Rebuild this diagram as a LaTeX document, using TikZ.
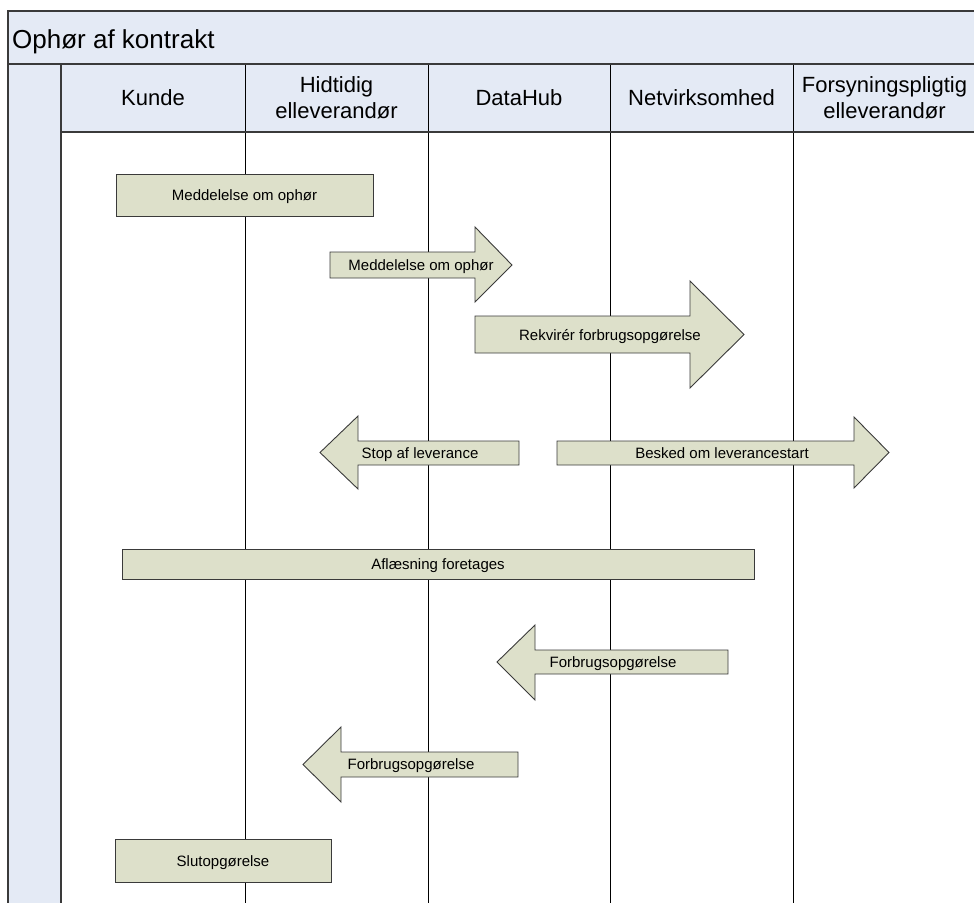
\documentclass[tikz,border=0pt]{standalone}
\usepackage{fontspec}
\setmainfont{Liberation Sans}
\definecolor{bandblue}{HTML}{E4EAF5}
\definecolor{boxfill}{HTML}{DDE0CA}
\definecolor{framegray}{HTML}{3A3A3A}
\begin{document}
\begin{tikzpicture}[x=1pt,y=-1pt,
  frameline/.style={draw=framegray, line width=1.3pt},
  laneline/.style={draw=black, line width=0.9pt},
  shp/.style={draw=framegray, fill=boxfill, line width=0.9pt, line join=miter},
  lbl/.style={font=\fontsize{15}{18}\selectfont, inner sep=0pt, text height=10.7pt, text depth=0pt},
  hdr/.style={font=\fontsize{22}{26}\selectfont, align=center, inner sep=0pt},
]
\useasboundingbox (0,0) rectangle (974,903);
% bands
\fill[bandblue] (8,11) rectangle (974,132);
\fill[bandblue] (8,132) rectangle (61,903);
% lane lines
\foreach \lx in {245,428,610,793} {\draw[laneline] (\lx,64) -- (\lx,903);}
% frame
\draw[frameline] (974,11) -- (8,11) -- (8,903);
\draw[frameline] (8,64) -- (974,64);
\draw[frameline] (61,64) -- (61,903);
\draw[frameline] (61,132) -- (974,132);
% title and headers
\node[anchor=west, inner sep=0pt, font=\fontsize{26}{30}\selectfont, text height=18.6pt, text depth=0pt] (title) at (12,39) {Ophør af kontrakt};
\node[hdr] (hkunde) at (153,98) {Kunde};
\node[hdr] (hhid) at (336.5,98) {Hidtidig\\elleverandør};
\node[hdr] (hdh) at (519,98) {DataHub};
\node[hdr] (hnet) at (701.5,98) {Netvirksomhed};
\node[hdr] (hfor) at (884.5,98) {Forsyningspligtig\\elleverandør};
% shapes
\draw[shp] (116,174) rectangle (373,216);
\node[lbl] (m1) at (244.5,195) {Meddelelse om ophør};
\draw[shp] (330,252) -- (475,252) -- (475,227) -- (512,265) -- (475,302) -- (475,278) -- (330,278) -- cycle;
\node[lbl] (m2) at (421,265) {Meddelelse om ophør};
\draw[shp] (475,316) -- (690,316) -- (690,281) -- (744,334.5) -- (690,388) -- (690,353) -- (475,353) -- cycle;
\node[lbl] (rek) at (610,335) {Rekvirér forbrugsopgørelse};
\draw[shp] (519,441) -- (358,441) -- (358,416) -- (320,452.5) -- (358,489) -- (358,465) -- (519,465) -- cycle;
\node[lbl] (stop) at (420,453) {Stop af leverance};
\draw[shp] (557,441) -- (854,441) -- (854,417) -- (889,452.5) -- (854,488) -- (854,465) -- (557,465) -- cycle;
\node[lbl] (besk) at (722,453) {Besked om leverancestart};
\draw[shp] (122,549) rectangle (754,579);
\node[lbl] (afl) at (438,564) {Aflæsning foretages};
\draw[shp] (728,650) -- (535,650) -- (535,625) -- (497,662) -- (535,700) -- (535,674) -- (728,674) -- cycle;
\node[lbl] (fo1) at (613,662) {Forbrugsopgørelse};
\draw[shp] (518,752) -- (341,752) -- (341,727) -- (303,764.5) -- (341,802) -- (341,777) -- (518,777) -- cycle;
\node[lbl] (fo2) at (411,764.5) {Forbrugsopgørelse};
\draw[shp] (115,839) rectangle (331,882);
\node[lbl] (slut) at (223,861) {Slutopgørelse};
\end{tikzpicture}
\end{document}
